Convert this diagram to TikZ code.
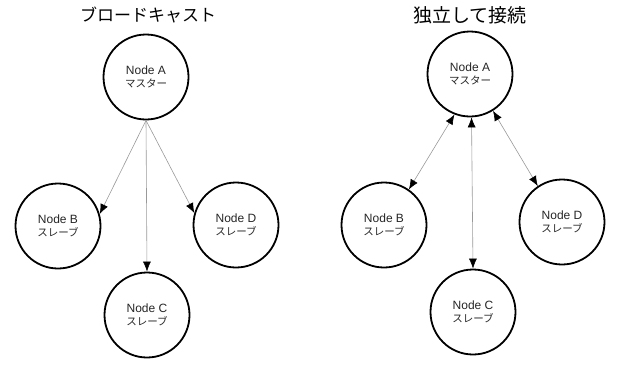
\documentclass[tikz,border=0pt]{standalone}
\usepackage{fontspec}
\setmainfont{Liberation Sans}
\newfontfamily\jpfont{Noto Sans CJK JP}
\usetikzlibrary{arrows.meta}

\begin{document}
\begin{tikzpicture}[
  netnode/.style={draw, circle, minimum size=85pt, inner sep=0pt, align=center,
                  line width=1.8pt, text=black!85,
                  font=\fontsize{12}{12.5}\selectfont},
  netedge/.style={draw, black!40, line width=0.6pt,
                  -{Latex[black, length=10pt, width=8pt]}},
  netboth/.style={netedge, {Latex[black, length=10pt, width=8pt]}-{Latex[black, length=10pt, width=8pt]}},
  nettitle/.style={font=\jpfont\fontsize{17}{17}\selectfont, inner sep=0pt},
]
  \useasboundingbox (0pt,0pt) rectangle (620pt,-370pt);
  \node[nettitle] (tbc) at (148pt,-15pt) {ブロードキャスト};
  \node[netnode] (bcA) at (146pt,-77pt) {Node A\\{\jpfont\fontsize{10.5}{12}\selectfont マスター}};
  \node[netnode] (bcB) at (58pt,-226pt) {Node B\\{\jpfont\fontsize{10.5}{12}\selectfont スレーブ}};
  \node[netnode] (bcC) at (147pt,-315pt) {Node C\\{\jpfont\fontsize{10.5}{12}\selectfont スレーブ}};
  \node[netnode] (bcD) at (236pt,-225pt) {Node D\\{\jpfont\fontsize{10.5}{12}\selectfont スレーブ}};
  \draw[netedge] (bcA.south) -- (bcB.16);
  \draw[netedge] (bcA.south) -- (bcC.north);
  \draw[netedge] (bcA.south) -- (bcD.164);
  \node[nettitle, font=\jpfont\fontsize{19}{19}\selectfont] (tin) at (470pt,-15pt) {独立して接続};
  \node[netnode] (inA) at (470pt,-74pt) {Node A\\{\jpfont\fontsize{10.5}{12}\selectfont マスター}};
  \node[netnode] (inB) at (384pt,-225pt) {Node B\\{\jpfont\fontsize{10.5}{12}\selectfont スレーブ}};
  \node[netnode] (inC) at (473pt,-312pt) {Node C\\{\jpfont\fontsize{10.5}{12}\selectfont スレーブ}};
  \node[netnode] (inD) at (562pt,-222pt) {Node D\\{\jpfont\fontsize{10.5}{12}\selectfont スレーブ}};
  \draw[netboth] (inA.249) -- (inB.55);
  \draw[netboth] (inA.272) -- (inC.north);
  \draw[netboth] (inA.302) -- (inD.124);
\end{tikzpicture}
\end{document}
